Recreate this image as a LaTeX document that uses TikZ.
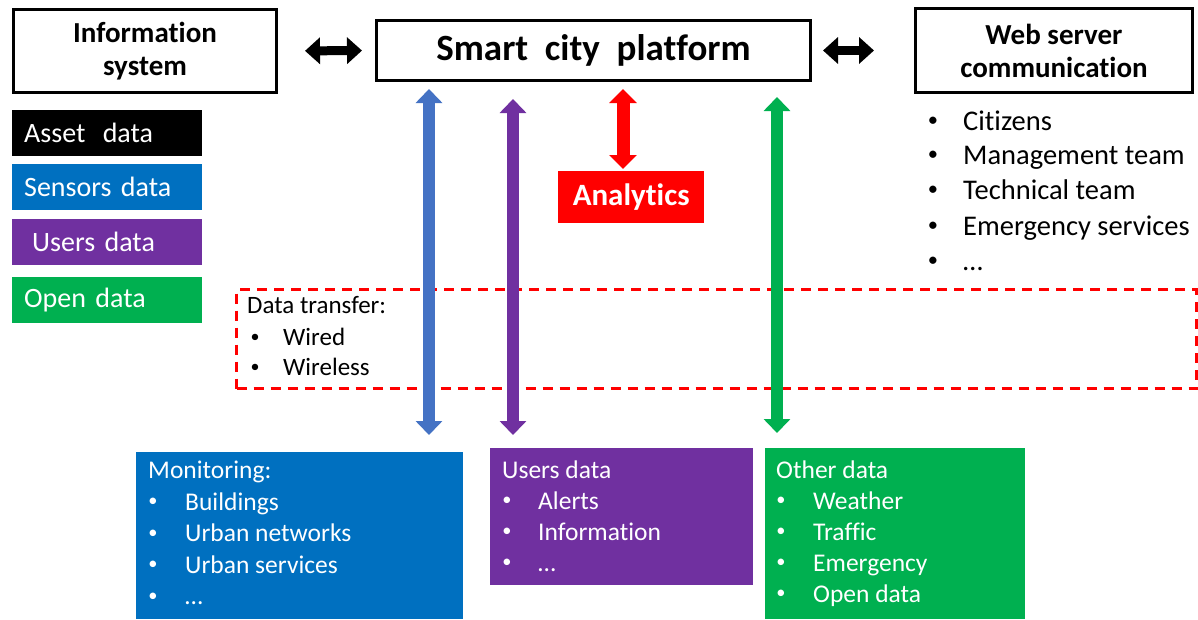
\documentclass[tikz,border=0pt]{standalone}
\usepackage{fontspec}
\setmainfont{Carlito}[RawFeature={-liga;-clig;-dlig}]
\usetikzlibrary{arrows.meta}
\definecolor{boxblue}{RGB}{0,112,192}
\definecolor{arrblue}{RGB}{68,114,196}
\definecolor{upurple}{RGB}{112,48,160}
\definecolor{ogreen}{RGB}{0,176,80}
\definecolor{pred}{RGB}{255,0,0}
\newcommand{\smallbul}{\raisebox{0.12em}{\scalebox{0.72}{•}}}
\begin{document}
\begin{tikzpicture}[x=1pt,y=-1pt,
  blackbox/.style={draw=black, line width=3pt, inner sep=0pt, align=center, anchor=north west},
  legendbox/.style={minimum height=46pt, text width=166pt, inner xsep=12pt, inner ysep=0pt,
    align=left, text=white, font=\fontsize{28}{34}\selectfont, anchor=north west},
  bigbox/.style={inner sep=0pt, anchor=north west},
  wtxt/.style={anchor=base west, inner sep=0pt, text=white, font=\fontsize{25.5}{31}\selectfont},
  wdot/.style={anchor=base, inner sep=0pt, text=white, font=\fontsize{25.5}{31}\selectfont},
  ktxt/.style={anchor=base west, inner sep=0pt, text=black, font=\fontsize{28.5}{34}\selectfont},
  kdot/.style={anchor=base, inner sep=0pt, text=black, font=\fontsize{28.5}{34}\selectfont},
  dtxt/.style={anchor=base west, inner sep=0pt, text=black, font=\fontsize{25}{30}\selectfont},
  ddot/.style={anchor=base, inner sep=0pt, text=black, font=\fontsize{25}{30}\selectfont},
  blkarrow/.style={line width=9pt, {Triangle[width=26pt,length=15pt]}-{Triangle[width=26pt,length=15pt]}},
  colarrow/.style={line width=12pt, {Triangle[width=26pt,length=14pt]}-{Triangle[width=26pt,length=14pt]}},
  redarrow/.style={line width=13pt, draw=pred, {Triangle[width=27pt,length=14pt]}-{Triangle[width=27pt,length=14pt]}}
]
\useasboundingbox (0,0) rectangle (1198,619);
\fill[white] (0,0) rectangle (1198,619);

% top boxes
\node[blackbox, minimum width=263pt, minimum height=83pt, font=\bfseries\fontsize{29}{33}\selectfont]
  (info) at (12,8) {Information\\system};
\node[blackbox, minimum width=434pt, minimum height=60pt, font=\bfseries\fontsize{37}{40}\selectfont]
  (platform) at (375,19) {Smart~~city~~platform};
\node[blackbox, minimum width=277pt, minimum height=84pt, font=\bfseries\fontsize{29}{33}\selectfont]
  (web) at (914,7) {Web server\\communication};

\draw[blkarrow, shorten <=27pt, shorten >=13pt] (info.east) -- (platform.west);
\draw[blkarrow, shorten <=11pt, shorten >=40pt] (platform.east) -- (web.west);

% web server list
\foreach \t/\y in {Citizens/130, Management team/164, Technical team/199, Emergency services/235, …/270}{
  \node[kdot] at (933,\y) {\smallbul};
  \node[ktxt] at (963,\y) {\t};
}

% legend
\node[legendbox, fill=black] (asset) at (12,110) {Asset\hspace{8pt} data};
\node[legendbox, fill=boxblue] (sensors) at (12,164) {Sensors data};
\node[legendbox, fill=upurple] (users) at (12,219) {\hspace*{8pt}Users data};
\node[legendbox, fill=ogreen] (open) at (12,277) {Open data};

% analytics
\node[fill=pred, minimum width=146pt, minimum height=52pt, inner sep=0pt, text=white,
  font=\bfseries\fontsize{31}{34}\selectfont, anchor=north west] (analytics) at (558,171) {Analytics};

% data transfer region
\node[draw=pred, line width=3pt, dash pattern=on 10pt off 7pt, minimum width=960pt,
  minimum height=99pt, inner sep=0pt, anchor=north west] (transfer) at (235,288) {};
\node[dtxt] at (247,313) {Data transfer:};
\node[ddot] at (255,345) {\smallbul};
\node[dtxt] at (283,345) {Wired};
\node[ddot] at (255,375) {\smallbul};
\node[dtxt] at (283,375) {Wireless};

% bottom boxes
\node[bigbox, fill=boxblue, minimum width=327pt, minimum height=167pt] (monitor) at (136,452) {};
\node[bigbox, fill=upurple, minimum width=263pt, minimum height=137pt] (udata) at (490,448) {};
\node[bigbox, fill=ogreen, minimum width=260pt, minimum height=171pt] (other) at (765,448) {};

\node[wtxt] at (148,478) {Monitoring:};
\foreach \t/\y in {Buildings/510, Urban networks/541.5, Urban services/573, …/604.5}{
  \node[wdot] at (153,\y) {\smallbul};
  \node[wtxt] at (185,\y) {\t};
}
\node[wtxt] at (502,478) {Users data};
\foreach \t/\y in {Alerts/509, Information/540, …/571}{
  \node[wdot] at (507,\y) {\smallbul};
  \node[wtxt] at (538,\y) {\t};
}
\node[wtxt] at (776,478) {Other data};
\foreach \t/\y in {Weather/509, Traffic/540, Emergency/571, Open data/602}{
  \node[wdot] at (781,\y) {\smallbul};
  \node[wtxt] at (813,\y) {\t};
}

% vertical connectors
\coordinate (blueTop) at (429,89);
\coordinate (blueBot) at (429,435);
\coordinate (purpleTop) at (513,99);
\coordinate (purpleBot) at (513,435);
\coordinate (greenTop) at (777,97);
\coordinate (greenBot) at (777,433);
\coordinate (redTop) at (623,89);
\coordinate (redBot) at (623,169);
\draw[colarrow, draw=arrblue] (blueTop) -- (blueBot);
\draw[colarrow, draw=upurple] (purpleTop) -- (purpleBot);
\draw[colarrow, draw=ogreen] (greenTop) -- (greenBot);
\draw[redarrow] (redTop) -- (redBot);
\end{tikzpicture}
\end{document}
